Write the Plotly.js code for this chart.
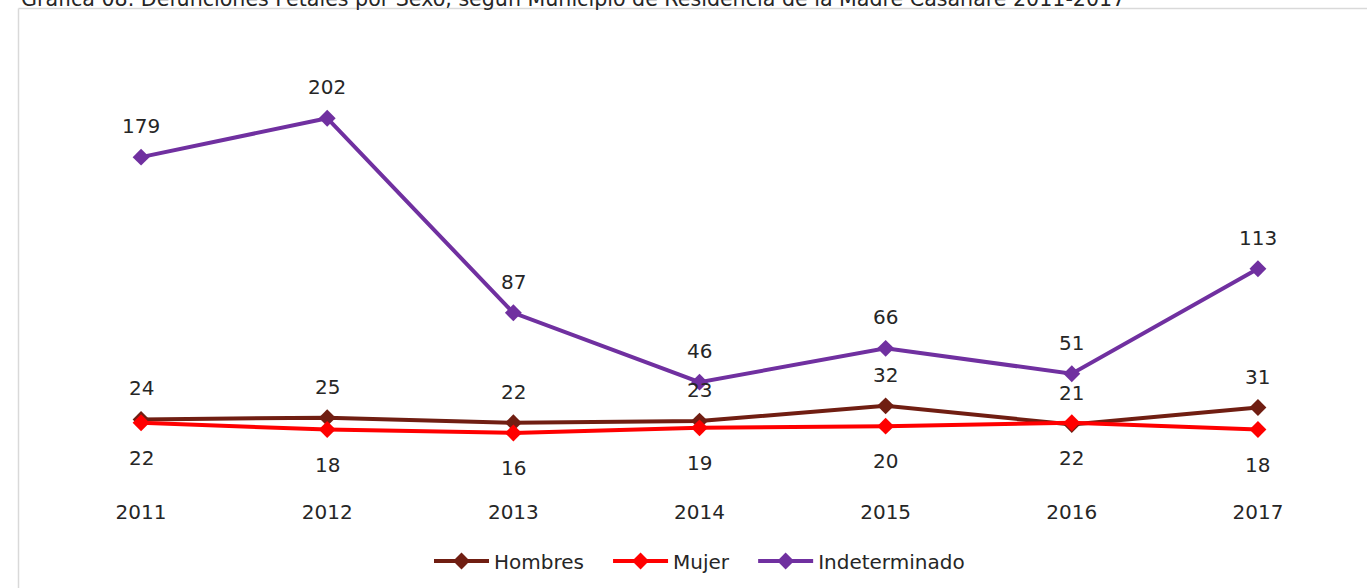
<!DOCTYPE html>
<html>
<head>
<meta charset="utf-8">
<script src="https://cdn.plot.ly/plotly-3.0.1.min.js"></script>
<style>
  html, body { margin: 0; padding: 0; background: #fff; }
  #chart { width: 1367px; height: 588px; }
</style>
</head>
<body>
<div id="chart"></div>
<script>
// ---- data ----
const years = ['2011', '2012', '2013', '2014', '2015', '2016', '2017'];
const hombres = [24, 25, 22, 23, 32, 21, 31];
const mujer = [22, 18, 16, 19, 20, 22, 18];
const indeterminado = [179, 202, 87, 46, 66, 51, 113];
const seriesNames = ['Hombres', 'Mujer', 'Indeterminado'];
const chartTitle = 'Gráfica 08. Defunciones Fetales por Sexo, según Municipio de Residencia de la Madre Casanare 2011-2017';

// ---- layout geometry ----
const W = 1367, H = 588;
const M = { l: 48, r: 16, t: 37, b: 128 };
const pw = W - M.l - M.r, ph = H - M.t - M.b;
const px2x = p => (p - M.l) / pw;
const py2y = p => (H - M.b - p) / ph;

const FONT = 'DejaVu Sans, sans-serif';
const TXT = '#262626';
const colors = ['#701E12', '#FF0000', '#7030A0'];
const series = [hombres, mujer, indeterminado];
const labelShift = [31, -35, 31];
const NB = '\u00a0\u00a0\u00a0';

const traces = series.map((vals, i) => ({
  type: 'scatter',
  mode: 'lines+markers',
  name: seriesNames[i] + (i < series.length - 1 ? NB : ''),
  x: years,
  y: vals,
  line: { color: colors[i], width: 4 },
  marker: { symbol: 'diamond', size: 13, color: colors[i] },
  hoverinfo: 'x+y+name'
}));

const annotations = [];
series.forEach((vals, i) => {
  vals.forEach((v, j) => {
    annotations.push({
      x: j, y: v, xref: 'x', yref: 'y',
      text: String(v), showarrow: false,
      yshift: labelShift[i], yanchor: 'middle', xanchor: 'center',
      font: { family: FONT, size: 20, color: TXT }
    });
  });
});
annotations.push({
  xref: 'paper', yref: 'paper',
  x: px2x(19), y: py2y(-1),
  xanchor: 'left', yanchor: 'middle',
  text: chartTitle, showarrow: false,
  font: { family: FONT, size: 20.6, color: TXT }
});

const layout = {
  width: W, height: H,
  margin: M,
  paper_bgcolor: '#fff', plot_bgcolor: '#fff',
  font: { family: FONT, size: 20, color: TXT },
  showlegend: true,
  legend: {
    orientation: 'h', x: 0.5, xanchor: 'center',
    xref: 'paper', yref: 'container',
    y: (H - 561) / H, yanchor: 'middle',
    font: { family: FONT, size: 20, color: TXT },
    itemwidth: 55, traceorder: 'normal'
  },
  xaxis: {
    type: 'category', range: [-0.5, 6.5],
    showgrid: false, zeroline: false, showline: false,
    ticks: 'outside', ticklen: 34, tickcolor: 'rgba(0,0,0,0)',
    tickfont: { family: FONT, size: 20, color: TXT },
    automargin: false,
    fixedrange: true
  },
  yaxis: {
    range: [0, 250], visible: false, showgrid: false, zeroline: false,
    fixedrange: true
  },
  annotations: annotations,
  shapes: [
    { type: 'line', xref: 'paper', yref: 'paper',
      x0: px2x(18.5), x1: px2x(1367), y0: py2y(8.5), y1: py2y(8.5),
      line: { color: '#D9D9D9', width: 1.5 } },
    { type: 'line', xref: 'paper', yref: 'paper',
      x0: px2x(18.5), x1: px2x(18.5), y0: py2y(8.5), y1: py2y(588),
      line: { color: '#D9D9D9', width: 1.5 } }
  ]
};

Plotly.newPlot('chart', traces, layout, { displayModeBar: false, staticPlot: true });
</script>
</body>
</html>
